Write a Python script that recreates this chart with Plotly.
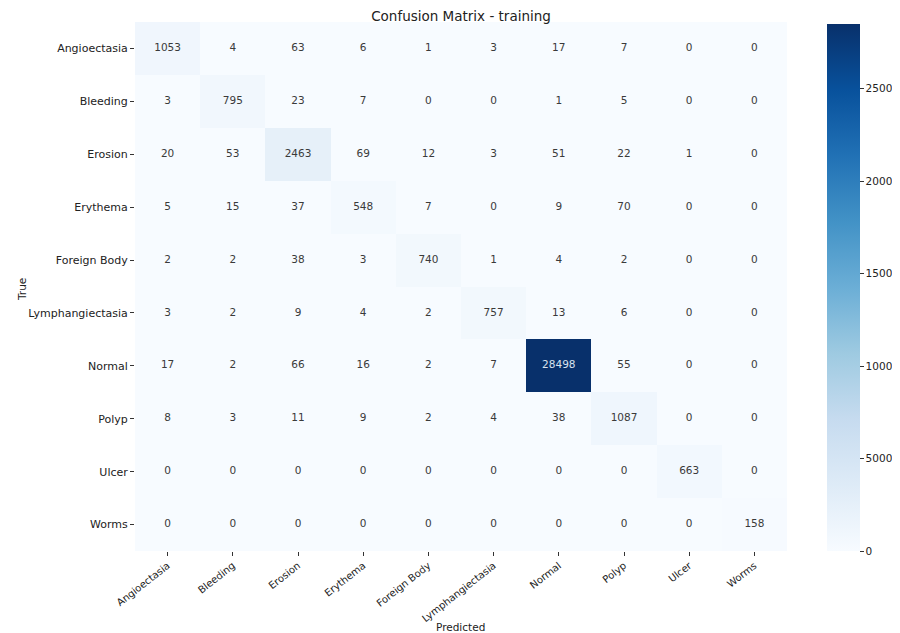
import plotly.graph_objects as go

classes = ["Angioectasia", "Bleeding", "Erosion", "Erythema", "Foreign Body",
           "Lymphangiectasia", "Normal", "Polyp", "Ulcer", "Worms"]

row_angioectasia = [1053, 4, 63, 6, 1, 3, 17, 7, 0, 0]
row_bleeding = [3, 795, 23, 7, 0, 0, 1, 5, 0, 0]
row_erosion = [20, 53, 2463, 69, 12, 3, 51, 22, 1, 0]
row_erythema = [5, 15, 37, 548, 7, 0, 9, 70, 0, 0]
row_foreign_body = [2, 2, 38, 3, 740, 1, 4, 2, 0, 0]
row_lymphangiectasia = [3, 2, 9, 4, 2, 757, 13, 6, 0, 0]
row_normal = [17, 2, 66, 16, 2, 7, 28498, 55, 0, 0]
row_polyp = [8, 3, 11, 9, 2, 4, 38, 1087, 0, 0]
row_ulcer = [0, 0, 0, 0, 0, 0, 0, 0, 663, 0]
row_worms = [0, 0, 0, 0, 0, 0, 0, 0, 0, 158]

matrix = [row_angioectasia, row_bleeding, row_erosion, row_erythema, row_foreign_body,
          row_lymphangiectasia, row_normal, row_polyp, row_ulcer, row_worms]

cbar_ticks = [0, 5000, 10000, 15000, 20000, 25000]

blues = [
    [0.0, "#f7fbff"], [0.125, "#deebf7"], [0.25, "#c6dbef"], [0.375, "#9ecae1"],
    [0.5, "#6baed6"], [0.625, "#4292c6"], [0.75, "#2171b5"], [0.875, "#08519c"],
    [1.0, "#08306b"],
]

zmax = max(max(r) for r in matrix)
FONT = "DejaVu Sans"
W, H = 900, 633
OFF = 8  # page body margin


def px(x):
    return (x - OFF) / W


def py(y):
    return 1 - (y - OFF) / H


fig = go.Figure()
fig.add_trace(go.Heatmap(
    z=matrix, x=classes, y=classes, colorscale=blues, zmin=0, zmax=zmax,
    hoverinfo="skip",
    colorbar=dict(
        x=px(827), xanchor="left", xref="paper", xpad=0, ypad=0,
        y=py(551), yanchor="bottom", len=527 / H, lenmode="fraction",
        thickness=33, outlinewidth=0,
        tickvals=cbar_ticks, ticktext=[str(t) for t in cbar_ticks],
        ticks="outside", ticklen=4, tickcolor="#333",
        tickfont=dict(family=FONT, size=10.5, color="#222"),
    ),
))

xs, ys, txt, cols = [], [], [], []
for i, r in enumerate(matrix):
    for j, v in enumerate(r):
        xs.append(classes[j])
        ys.append(classes[i])
        txt.append(str(v))
        cols.append("#d8e2ee" if v > zmax * 0.6 else "#3a3a3a")
fig.add_trace(go.Scatter(
    x=xs, y=ys, mode="text", text=txt,
    textfont=dict(family=FONT, size=10.5, color=cols),
    hoverinfo="skip", showlegend=False,
))

fig.update_layout(
    width=W, height=H,
    margin=dict(l=0, r=0, t=0, b=0),
    paper_bgcolor="white", plot_bgcolor="white",
    font=dict(family=FONT, color="#222"),
    title=dict(text="Confusion Matrix - training", x=px(461), xanchor="center",
               y=py(16), yanchor="middle", yref="container",
               font=dict(family=FONT, size=13.5, color="#222")),
    xaxis=dict(domain=[px(135), px(787)], tickangle=-38, ticks="outside",
               ticklen=4, tickcolor="#333", showgrid=False, zeroline=False,
               showline=False, automargin=False,
               tickfont=dict(family=FONT, size=10, color="#222")),
    yaxis=dict(domain=[py(551), py(22)], autorange="reversed",
               ticks="outside", ticklen=4, tickcolor="#333", showgrid=False,
               zeroline=False, showline=False, automargin=False,
               tickfont=dict(family=FONT, size=11, color="#222")),
    annotations=[
        dict(text="Predicted", x=px(461), y=py(627), xref="paper", yref="paper",
             showarrow=False, yanchor="middle", font=dict(family=FONT, size=10.5, color="#222")),
        dict(text="True", x=px(14), y=py(290), xref="paper", yref="paper",
             showarrow=False, textangle=-90, font=dict(family=FONT, size=10.5, color="#222")),
    ],
)

fig.write_html("out.html")
